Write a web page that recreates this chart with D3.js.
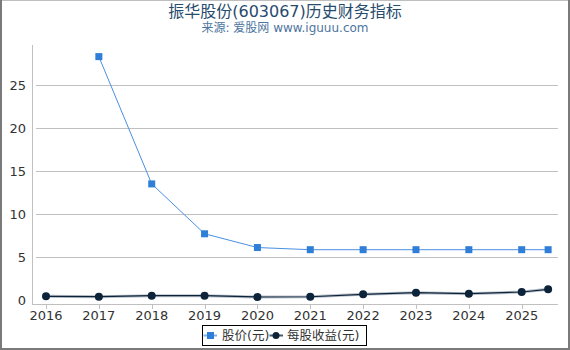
<!DOCTYPE html>
<html><head><meta charset="utf-8">
<script src="https://cdn.jsdelivr.net/npm/d3@7/dist/d3.min.js"></script>
<style>body{margin:0;background:#fff;}svg{display:block;font-family:"DejaVu Sans","Noto Sans CJK SC",sans-serif;}</style>
</head><body><svg id="c" width="570" height="350"></svg>
<script>
const yearTicks = [2016,2017,2018,2019,2020,2021,2022,2023,2024,2025];
const priceDates = [2017,2018,2019,2020,2021,2022,2023,2024,2025,2025.5];
const priceValues = [28.3,13.5,7.7,6.1,5.85,5.85,5.85,5.85,5.85,5.85];
const epsDates = [2016,2017,2018,2019,2020,2021,2022,2023,2024,2025,2025.5];
const epsValues = [0.43,0.39,0.5,0.5,0.35,0.38,0.66,0.85,0.73,0.93,1.24];
const yTicks = [0,5,10,15,20,25];
const title = "振华股份(603067)历史财务指标";
const subtitle = "来源: 爱股网 www.iguuu.com";
const seriesNames = ["股价(元)","每股收益(元)"];

const svg = d3.select("#c");
const x = d3.scaleLinear().domain([2016,2025]).range([46,521.7]);
const y = d3.scaleLinear().domain([0,25]).range([300,85]);
const plotLeft = 32, plotRight = 558, axisY = 304, plotTop = 45;

svg.append("text").attr("x",285).attr("y",17).attr("text-anchor","middle")
  .attr("font-size",16).attr("fill","#274b6d").text(title);
svg.append("text").attr("x",285).attr("y",32).attr("text-anchor","middle")
  .attr("font-size",12).attr("fill","#4d759e").text(subtitle);

// grid
svg.append("g").selectAll("line").data(yTicks.filter(d=>d>0)).join("line")
  .attr("x1",36).attr("x2",plotRight).attr("y1",d=>y(d)).attr("y2",d=>y(d))
  .attr("stroke","#c0c0c0").attr("stroke-width",1).attr("shape-rendering","crispEdges");

// y axis line
svg.append("line").attr("x1",plotLeft).attr("x2",plotLeft).attr("y1",plotTop).attr("y2",axisY)
  .attr("stroke","#c0c0c0").attr("shape-rendering","crispEdges");
// x axis line
svg.append("line").attr("x1",plotLeft).attr("x2",plotRight).attr("y1",axisY).attr("y2",axisY)
  .attr("stroke","#c0c0c0").attr("shape-rendering","crispEdges");

// y labels
svg.append("g").selectAll("text").data(yTicks).join("text")
  .attr("x",26).attr("y",d=>y(d)+5).attr("text-anchor","end")
  .attr("font-size",13).attr("fill","#333").text(d=>d);

// x ticks + labels
const xg = svg.append("g");
xg.selectAll("line").data(yearTicks).join("line")
  .attr("x1",d=>Math.round(x(d))+0.5).attr("x2",d=>Math.round(x(d))+0.5)
  .attr("y1",axisY).attr("y2",axisY+5).attr("stroke","#c0c0c0");
xg.selectAll("text").data(yearTicks).join("text")
  .attr("x",d=>x(d)).attr("y",axisY+16).attr("text-anchor","middle")
  .attr("font-size",13).attr("fill","#333").text(d=>d);

// price series
const price = priceDates.map((d,i)=>[d,priceValues[i]]);
svg.append("path").datum(price)
  .attr("d",d3.line().x(d=>x(d[0])).y(d=>y(d[1])))
  .attr("fill","none").attr("stroke","#4a90e2").attr("stroke-width",1);
svg.append("g").selectAll("rect").data(price).join("rect")
  .attr("x",d=>x(d[0])-3.5).attr("y",d=>y(d[1])-3.5).attr("width",7).attr("height",7)
  .attr("fill","#2f7ed8");

// eps series
const eps = epsDates.map((d,i)=>[d,epsValues[i]]);
svg.append("path").datum(eps)
  .attr("d",d3.line().x(d=>x(d[0])).y(d=>y(d[1])))
  .attr("fill","none").attr("stroke","#8a97a6").attr("stroke-width",3).attr("opacity",0.6);
svg.append("path").datum(eps)
  .attr("d",d3.line().x(d=>x(d[0])).y(d=>y(d[1])))
  .attr("fill","none").attr("stroke","#0d233a").attr("stroke-width",1.2);
svg.append("g").selectAll("circle").data(eps).join("circle")
  .attr("cx",d=>x(d[0])).attr("cy",d=>y(d[1])).attr("r",4)
  .attr("fill","#0d233a");

// legend
const lg = svg.append("g");
lg.append("rect").attr("x",202.5).attr("y",325.5).attr("width",164).attr("height",20)
  .attr("fill","#fff").attr("stroke","#000").attr("stroke-width",1);
lg.append("line").attr("x1",203.5).attr("x2",217).attr("y1",335.5).attr("y2",335.5).attr("stroke","#7fb0ea").attr("stroke-width",2);
lg.append("rect").attr("x",207).attr("y",332).attr("width",7).attr("height",7).attr("fill","#2f7ed8");
lg.append("text").attr("x",222).attr("y",340).attr("font-size",12.5).attr("fill","#333").text(seriesNames[0]);
lg.append("line").attr("x1",269.5).attr("x2",283).attr("y1",335.5).attr("y2",335.5).attr("stroke","#4a5a6a").attr("stroke-width",2);
lg.append("circle").attr("cx",276).attr("cy",335.5).attr("r",3.5).attr("fill","#0d233a");
lg.append("text").attr("x",287).attr("y",340).attr("font-size",12.5).attr("fill","#333").text(seriesNames[1]);

// frame
svg.append("rect").attr("x",0).attr("y",0).attr("width",570).attr("height",0.8).attr("fill","#b0b0b0");
svg.append("rect").attr("x",0).attr("y",0).attr("width",2).attr("height",350).attr("fill","#7a7a7a");
svg.append("rect").attr("x",568).attr("y",0).attr("width",2).attr("height",350).attr("fill","#7a7a7a");
svg.append("rect").attr("x",0).attr("y",348).attr("width",570).attr("height",2).attr("fill","#7a7a7a");
</script></body></html>
